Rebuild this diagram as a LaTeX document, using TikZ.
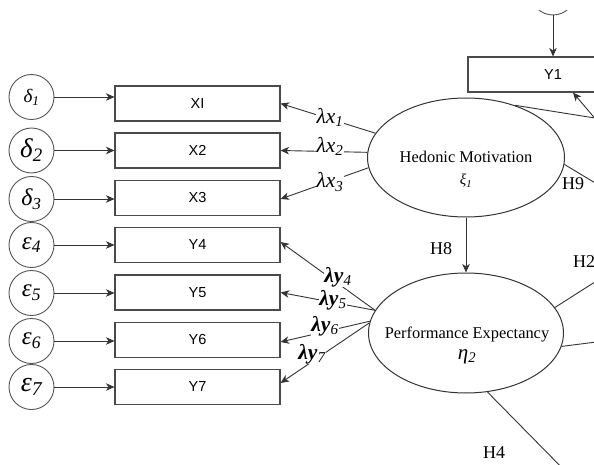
\documentclass[tikz,border=0pt]{standalone}
\usepackage{fontspec}
\setmainfont{Liberation Serif}
\newfontfamily\boxfont{Liberation Sans}
\usetikzlibrary{arrows.meta,shapes.geometric,calc}

\definecolor{edgegray}{HTML}{333333}
\definecolor{boxgray}{HTML}{4A4A4A}
\definecolor{ringgray}{HTML}{555555}

\newcommand{\fsz}[1]{\fontsize{#1}{#1}\selectfont}

\tikzset{
  obs/.style={draw=boxgray, line width=1.1pt, minimum width=165pt, minimum height=35pt,
    inner sep=0pt, font=\boxfont\fsz{14.5}},
  err/.style={circle, draw=ringgray, line width=0.9pt, minimum size=45pt, inner sep=0pt},
  lat/.style={ellipse, draw=edgegray, line width=1pt, inner sep=0pt},
  conn/.style={draw=edgegray, line width=0.9pt,
    -{Stealth[length=8.5pt,width=7.5pt,inset=2.5pt]}},
  hypline/.style={draw=edgegray, line width=0.9pt},
  loadlbl/.style={fill=white, inner sep=0.6pt, font=\itshape\fsz{21.5}},
  loadlbly/.style={fill=white, inner sep=0.6pt, font=\bfseries\itshape\fsz{21.5}},
  hyplbl/.style={inner sep=0pt, font=\fsz{18}},
  lattext/.style={inner sep=0pt, font=\fsz{16.4}},
}

\begin{document}
\begin{tikzpicture}[x=1pt,y=-1pt]
\useasboundingbox (0,0) rectangle (594,465);
\clip (0,0) rectangle (594,465);

% observed indicators
\node[obs] (x1) at (197.5,103.5) {XI};
\node[obs] (x2) at (197.5,150.5) {X2};
\node[obs] (x3) at (197.5,198) {X3};
\node[obs] (y4) at (197.5,245) {Y4};
\node[obs] (y5) at (197.5,292.5) {Y5};
\node[obs] (y6) at (197.5,340) {Y6};
\node[obs] (y7) at (197.5,387) {Y7};
\node[obs, minimum width=170pt] (y1) at (553,74.5) {Y1};

% measurement errors
\node[err, font=\itshape\fsz{19}] (d1) at (31.5,97) {δ\textsubscript{1}};
\node[err, font=\itshape\fsz{27}] (d2) at (31.5,150.5) {δ\textsubscript{2}};
\node[err, font=\itshape\fsz{24}] (d3) at (31.5,199) {δ\textsubscript{3}};
\node[err, font=\itshape\fsz{25}] (e4) at (31.5,245) {ε\textsubscript{4}};
\node[err, font=\itshape\fsz{25}] (e5) at (31.5,293) {ε\textsubscript{5}};
\node[err, font=\itshape\fsz{25}] (e6) at (31.5,341) {ε\textsubscript{6}};
\node[err, font=\itshape\fsz{28}] (e7) at (31.5,387) {ε\textsubscript{7}};

% error term of Y1, only its lower rim shows below the top margin
\begin{scope}
  \clip (0,11) rectangle (594,465);
  \node[err] (e1) at (553,-7.5) {};
\end{scope}

\foreach \e/\b in {d1/x1,d2/x2,d3/x3,e4/y4,e5/y5,e6/y6,e7/y7}
  \draw[conn] (\e.east) -- (\e.east -| \b.west);
\draw[conn] (e1) -- (y1);

% latent constructs
\node[lat, minimum width=197pt, minimum height=119pt] (hm) at (466,157.5) {};
\node[lattext] (hmt) at (466,157) {Hedonic Motivation};
\node[lattext, font=\itshape\fsz{15}] (hmx) at (466,181) {ξ\textsubscript{1}};

\node[lat, minimum width=195pt, minimum height=120pt] (pe) at (466,333) {};
\node[lattext] (pet) at (467,334) {Performance Expectancy};
\node[lattext, font=\itshape\fsz{21}] (pee) at (467,357) {η\textsubscript{2}};

% loadings
\draw[conn] (hm.165) -- (x1.east);
\draw[conn] (hm.177) -- (x2.east);
\draw[conn] (hm.186) -- ([yshift=-1pt]x3.east);
\draw[conn] (pe.166) -- ([yshift=3pt]y4.east);
\draw[conn] (pe.166) -- (y5.east);
\draw[conn] (pe.173) -- ([yshift=-2pt]y6.east);
\draw[conn] (pe.174) -- ([yshift=4pt]y7.east);

\node[loadlbl] (lx1) at (330,117) {λx\textsubscript{1}};
\node[loadlbl] (lx2) at (330,146) {λx\textsubscript{2}};
\node[loadlbl] (lx3) at (330,182) {λx\textsubscript{3}};
\node[loadlbly] (ly4) at (338,277) {λy\textsubscript{\mdseries 4}};
\node[loadlbly] (ly5) at (333,300) {λy\textsubscript{\mdseries 5}};
\node[loadlbly] (ly6) at (325,326) {λy\textsubscript{\mdseries 6}};
\node[loadlbly] (ly7) at (312,354) {λy\textsubscript{\mdseries 7}};

% structural paths
\draw[conn] (hm.south) -- (pe.north);
\node[hyplbl] (h8) at (441,249) {H8};

\coordinate (r1) at (620,122);
\coordinate (r2) at (620,148);
\coordinate (r3) at (620,198);
\coordinate (r4) at (620,266);
\coordinate (r5) at (620,339);
\coordinate (r6) at (574,480);

\draw[hypline] (hm.47) -- (r1);
\draw[conn] (r2) -- ([xshift=20pt]y1.south);
\draw[hypline] (hm.-4) -- (r3);
\draw[hypline] (pe.16) -- (r4);
\draw[hypline] (pe.-8) -- (r5);
\draw[hypline] (pe.-70) -- (r6);

\node[hyplbl] (h9) at (573,184) {H9};
\node[hyplbl] (h2) at (584,262) {H2};
\node[hyplbl] (h4) at (494,453) {H4};
\end{tikzpicture}
\end{document}
